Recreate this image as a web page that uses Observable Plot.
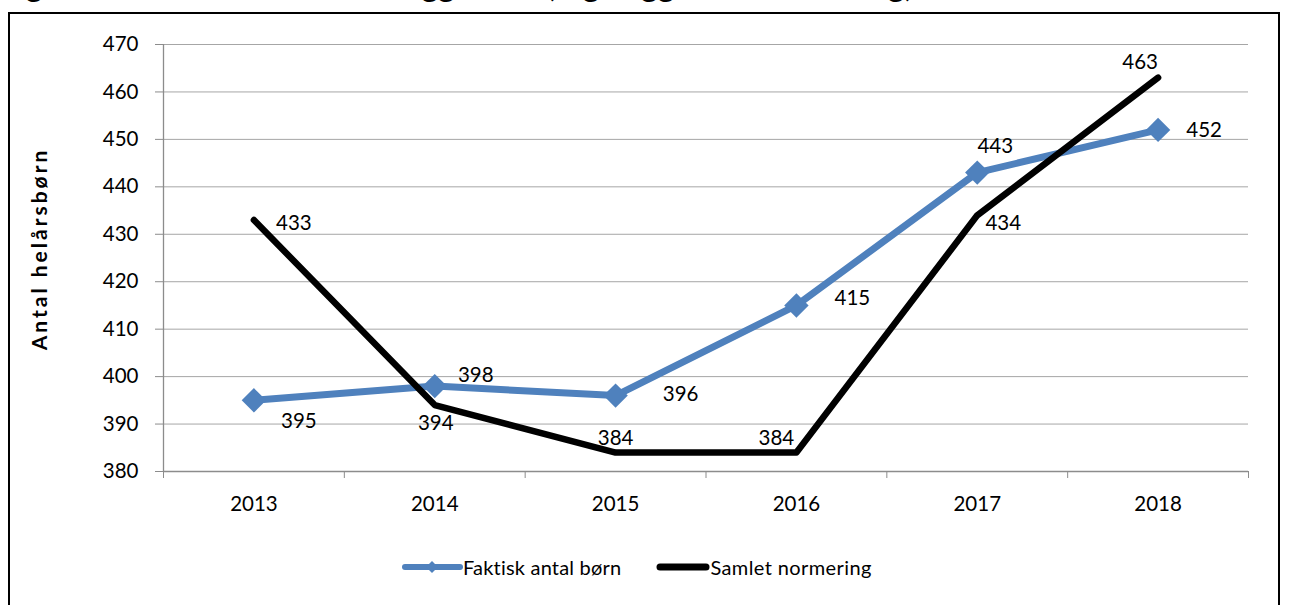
<!DOCTYPE html>
<html>
<head>
<meta charset="utf-8">
<script src="https://cdn.jsdelivr.net/npm/d3@7"></script>
<script src="https://cdn.jsdelivr.net/npm/@observablehq/plot@0.6"></script>
<style>
  html, body { margin: 0; padding: 0; background: #fff; overflow: hidden; }
  body { width: 1290px; height: 605px; position: relative; font-family: Lato, "Open Sans", sans-serif; }
  #title { position: absolute; left: 0; top: -30px; font-size: 31px; line-height: 31px; font-weight: bold; white-space: nowrap; color: #000; letter-spacing: 0.3px; }
  #frame { position: absolute; left: 8px; top: 12px; width: 1272px; height: 640px; border: 2px solid #000; box-sizing: border-box; }
  #chart { position: absolute; left: 0; top: 0; }
  #ytitle { position: absolute; left: 38px; top: 249px; transform: translate(-50%, -50%) rotate(-90deg); font-size: 21px; letter-spacing: 3px; font-weight: bold; white-space: nowrap; color: #000; }
  #legend { position: absolute; left: 402px; top: 555px; display: flex; align-items: center; font-size: 20px; color: #000; }
  #legend .item { display: flex; align-items: center; }
  #legend svg { display: block; }
</style>
</head>
<body>
<div id="title">Figur 1: Faktisk antal børn i vuggestuen, og vuggestue normering, 2013-2018</div>
<div id="frame"></div>
<div id="chart"></div>
<div id="ytitle">Antal helårsbørn</div>
<div id="legend"></div>
<script>
// ---- data ----
const years = [2013, 2014, 2015, 2016, 2017, 2018];
const faktisk = [395, 398, 396, 415, 443, 452];
const samlet = [433, 394, 384, 384, 434, 463];
const yTicks = [380, 390, 400, 410, 420, 430, 440, 450, 460, 470];
const seriesNames = ["Faktisk antal børn", "Samlet normering"];

// ---- styling ----
const blue = "#4f81bd";
const gridColor = "#a6a6a6";
const axisColor = "#8c8c8c";
// data label placement (pixel offsets relative to the point)
const faktiskLabelOffsets = [[45, 21], [41, -11], [65, -1], [56, -7], [18, -26], [46, 1]];
const samletLabelOffsets = [[40, 3], [1, 18], [0, -14], [-20, -14], [26, 8], [-18, -15]];

const rowsF = years.map((year, i) => ({year, value: faktisk[i], series: seriesNames[0]}));
const rowsS = years.map((year, i) => ({year, value: samlet[i], series: seriesNames[1]}));
const boundaries = [...years.map(y => y - 0.5), years[years.length - 1] + 0.5];

const labelMarks = [
  ...rowsF.map((d, i) => Plot.text([d], {x: "year", y: "value", text: d => String(d.value), dx: faktiskLabelOffsets[i][0], dy: faktiskLabelOffsets[i][1], fill: "#000", fontSize: 20.5})),
  ...rowsS.map((d, i) => Plot.text([d], {x: "year", y: "value", text: d => String(d.value), dx: samletLabelOffsets[i][0], dy: samletLabelOffsets[i][1], fill: "#000", fontSize: 20.5}))
];

const chart = Plot.plot({
  width: 1290,
  height: 520,
  marginLeft: 163,
  marginRight: 42,
  marginTop: 44,
  marginBottom: 49,
  x: {domain: [boundaries[0], boundaries[boundaries.length - 1]]},
  y: {domain: [yTicks[0], yTicks[yTicks.length - 1]]},
  style: {fontFamily: "Lato, 'Open Sans', sans-serif", fontSize: "20px", color: "#000", background: "transparent", overflow: "visible"},
  marks: [
    Plot.gridY(yTicks.slice(1), {stroke: gridColor, strokeOpacity: 1, strokeWidth: 1}),
    Plot.ruleY([yTicks[0]], {stroke: axisColor, strokeWidth: 1.3}),
    Plot.ruleX([boundaries[0]], {stroke: axisColor, strokeWidth: 1.3}),
    Plot.axisY(yTicks, {tickSize: 8, tickPadding: 17, stroke: axisColor, fill: "#000", label: null, fontSize: 20.5}),
    Plot.axisX(boundaries, {tickSize: 7, tickFormat: () => "", stroke: axisColor, label: null}),
    Plot.axisX(years, {tickSize: 0, tickPadding: 25, tickFormat: d => String(d), fill: "#000", label: null, fontSize: 20.5}),
    Plot.line(rowsF, {x: "year", y: "value", stroke: blue, strokeWidth: 7, strokeLinejoin: "round", strokeLinecap: "round"}),
    Plot.dot(rowsF, {x: "year", y: "value", symbol: "diamond2", r: 11, fill: blue, stroke: "none", ariaLabel: "diamonds"}),
    Plot.line(rowsS, {x: "year", y: "value", stroke: "#000", strokeWidth: 6.5, strokeLinejoin: "round", strokeLinecap: "round"}),
    ...labelMarks
  ]
});
d3.select(chart).selectAll("g[aria-label='diamonds']").style("filter", "drop-shadow(2px 3px 2px rgba(0,0,0,0.35))");
document.getElementById("chart").appendChild(chart);

// ---- legend ----
const legend = d3.select("#legend");
const it1 = legend.append("div").attr("class", "item").style("margin-right", "35px");
const s1 = it1.append("svg").attr("width", 61).attr("height", 24);
s1.append("line").attr("x1", 3).attr("x2", 58).attr("y1", 12).attr("y2", 12).attr("stroke", blue).attr("stroke-width", 6).attr("stroke-linecap", "round");
s1.append("path").attr("d", d3.symbol(d3.symbolDiamond2, 90)()).attr("transform", "translate(30,12)").attr("fill", blue);
it1.append("span").text(seriesNames[0]).style("letter-spacing", "0.2px");
const it2 = legend.append("div").attr("class", "item");
const s2 = it2.append("svg").attr("width", 54).attr("height", 24);
s2.append("line").attr("x1", 4).attr("x2", 50).attr("y1", 12).attr("y2", 12).attr("stroke", "#000").attr("stroke-width", 7).attr("stroke-linecap", "round");
it2.append("span").text(seriesNames[1]).style("letter-spacing", "0.4px");
</script>
</body>
</html>
